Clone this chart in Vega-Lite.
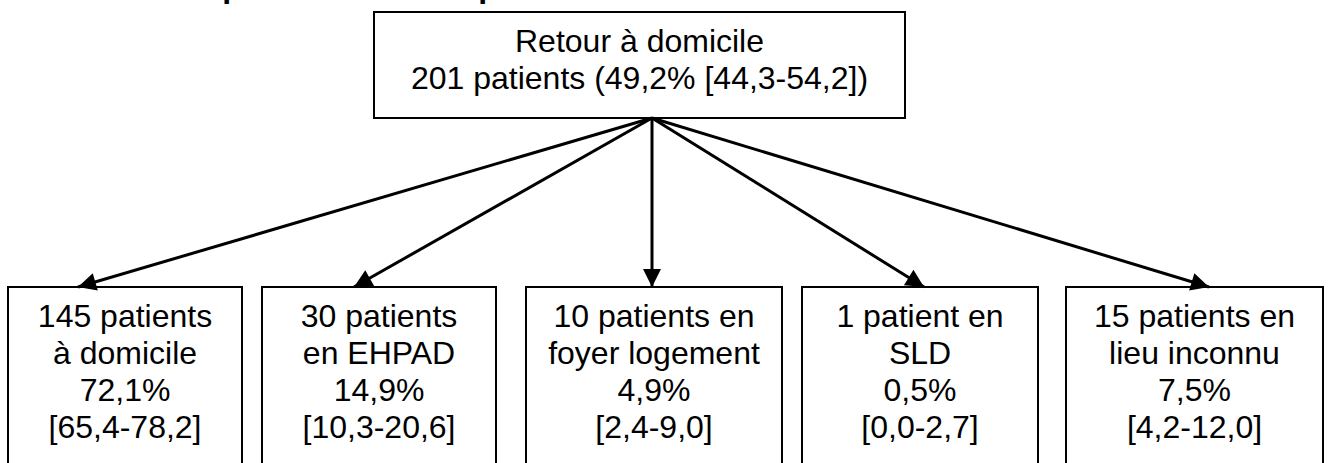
{
  "$schema": "https://vega.github.io/schema/vega-lite/v6.json",
  "width": 1330,
  "height": 463,
  "padding": 0,
  "autosize": {"type": "none"},
  "background": "white",
  "config": {"view": {"stroke": null}},
  "datasets": {
    "boxes": [
      {"id": "top", "x": 374, "x2": 905, "y": 12, "y2": 118},
      {"id": "b1", "x": 8, "x2": 242, "y": 287, "y2": 480},
      {"id": "b2", "x": 262, "x2": 496, "y": 287, "y2": 480},
      {"id": "b3", "x": 526, "x2": 782, "y": 287, "y2": 480},
      {"id": "b4", "x": 802, "x2": 1038, "y": 287, "y2": 480},
      {"id": "b5", "x": 1066, "x2": 1323, "y": 287, "y2": 480}
    ],
    "arrows": [
      {"target": "b1", "x": 652, "y": 118, "tx": 78, "ty": 287},
      {"target": "b2", "x": 652, "y": 118, "tx": 354, "ty": 287},
      {"target": "b3", "x": 652, "y": 118, "tx": 652, "ty": 287},
      {"target": "b4", "x": 652, "y": 118, "tx": 924, "ty": 287},
      {"target": "b5", "x": 652, "y": 118, "tx": 1209, "ty": 287}
    ],
    "labels": [
      {"x": 639.5, "y": 52, "text": "Retour à domicile\n201 patients (49,2% [44,3-54,2])"},
      {"x": 125, "y": 327, "text": "145 patients\nà domicile\n72,1%\n[65,4-78,2]"},
      {"x": 379, "y": 327, "text": "30 patients\nen EHPAD\n14,9%\n[10,3-20,6]"},
      {"x": 654, "y": 327, "text": "10 patients en\nfoyer logement\n4,9%\n[2,4-9,0]"},
      {"x": 920, "y": 327, "text": "1 patient en\nSLD\n0,5%\n[0,0-2,7]"},
      {"x": 1194.5, "y": 327, "text": "15 patients en\nlieu inconnu\n7,5%\n[4,2-12,0]"}
    ],
    "title": [
      {"x": 32, "y": -3, "text": "Devenir des patients non hospitalisés"}
    ]
  },
  "layer": [
    {
      "data": {"name": "boxes"},
      "mark": {"type": "rect", "fill": "white", "stroke": "black", "strokeWidth": 2},
      "encoding": {
        "x": {"field": "x", "type": "quantitative", "scale": {"domain": [0, 1330], "nice": false, "zero": false}, "axis": null},
        "x2": {"field": "x2"},
        "y": {"field": "y", "type": "quantitative", "scale": {"domain": [0, 463], "nice": false, "zero": false, "reverse": true}, "axis": null},
        "y2": {"field": "y2"}
      }
    },
    {
      "data": {"name": "arrows"},
      "mark": {"type": "rule", "color": "black", "strokeWidth": 3},
      "encoding": {
        "x": {"field": "x", "type": "quantitative"},
        "y": {"field": "y", "type": "quantitative"},
        "x2": {"field": "tx"},
        "y2": {"field": "ty"}
      }
    },
    {
      "data": {"name": "arrows"},
      "transform": [
        {"calculate": "atan2(-(datum.tx - datum.x), datum.ty - datum.y) * 180 / PI", "as": "angle"}
      ],
      "mark": {"type": "point", "shape": "M0,0L-0.5,-1L0.5,-1Z", "filled": true, "color": "black", "opacity": 1, "size": 1300, "strokeWidth": 0},
      "encoding": {
        "x": {"field": "tx", "type": "quantitative"},
        "y": {"field": "ty", "type": "quantitative"},
        "angle": {"field": "angle", "type": "quantitative", "scale": null}
      }
    },
    {
      "data": {"name": "labels"},
      "mark": {"type": "text", "font": "Liberation Sans", "fontSize": 32, "lineBreak": "\n", "lineHeight": 37, "align": "center", "baseline": "alphabetic", "color": "black"},
      "encoding": {
        "x": {"field": "x", "type": "quantitative"},
        "y": {"field": "y", "type": "quantitative"},
        "text": {"field": "text"}
      }
    },
    {
      "data": {"name": "title"},
      "mark": {"type": "text", "font": "Liberation Sans", "fontSize": 32, "fontWeight": "bold", "align": "left", "baseline": "alphabetic", "color": "black"},
      "encoding": {
        "x": {"field": "x", "type": "quantitative"},
        "y": {"field": "y", "type": "quantitative"},
        "text": {"field": "text"}
      }
    }
  ]
}
